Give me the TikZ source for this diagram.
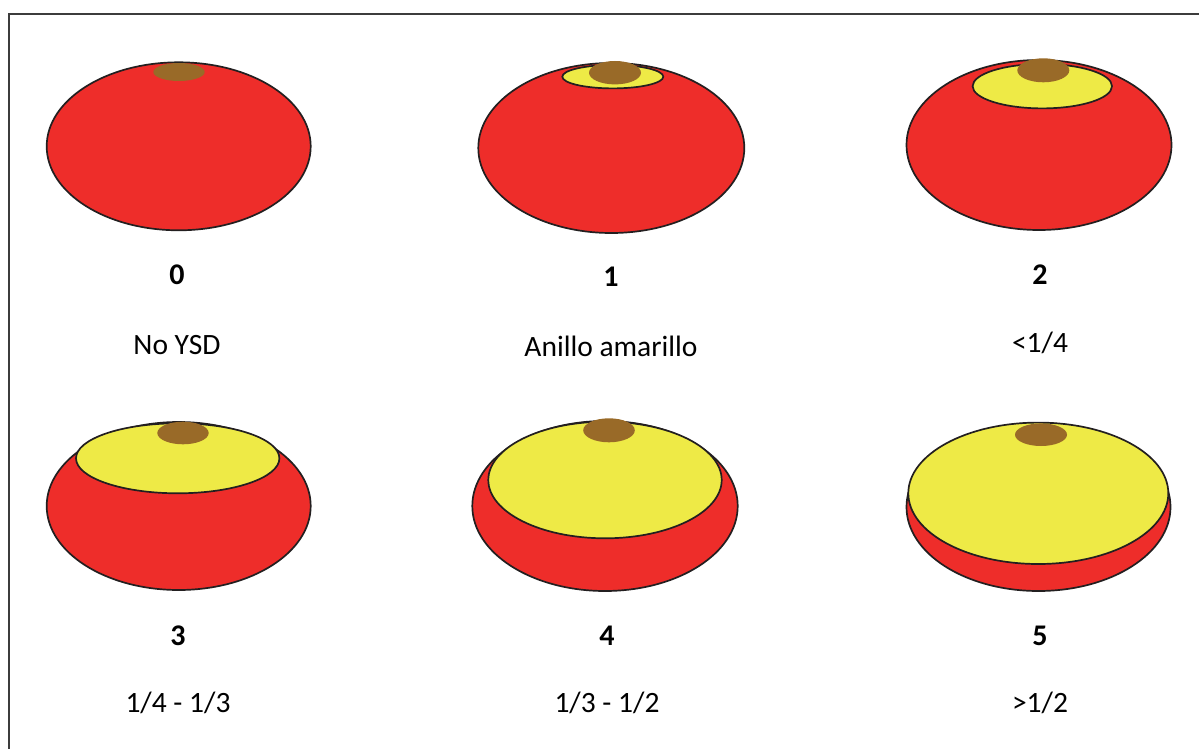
\documentclass[tikz,border=0pt]{standalone}
\usepackage{fontspec}
\setmainfont{Carlito}
\definecolor{seedred}{RGB}{238,45,42}
\definecolor{seedyellow}{RGB}{238,234,70}
\definecolor{hilum}{RGB}{153,106,40}
\definecolor{outline}{RGB}{35,31,32}
\definecolor{framegray}{RGB}{60,60,60}
\tikzset{
  seed/.style={fill=seedred, draw=outline, line width=1.7pt},
  spot/.style={fill=seedyellow, draw=outline, line width=1.7pt},
  eye/.style={fill=hilum, draw=none},
  grade/.style={font=\fontsize{30}{34}\selectfont\bfseries},
  caption/.style={font=\fontsize{29.5}{34}\selectfont}
}
\begin{document}
\begin{tikzpicture}[x=1pt,y=-1pt]
\useasboundingbox (0,0) rectangle (1199,749);
% frame
\draw[framegray, line width=2pt] (9,760) -- (9,14) -- (1210,14);

% grade 0
\draw[seed] (178.7,146.3) ellipse [x radius=132, y radius=84];
\fill[eye] (179,72) ellipse [x radius=25.7, y radius=9];

% grade 1
\draw[seed] (611.3,148) ellipse [x radius=133, y radius=85];
\draw[spot] (612.8,76.7) ellipse [x radius=50.5, y radius=11.7];
\fill[eye] (615,72.7) ellipse [x radius=26, y radius=11.7];

% grade 2
\draw[seed] (1039,145) ellipse [x radius=132.5, y radius=85];
\draw[spot] (1042.3,86.2) ellipse [x radius=69.7, y radius=22.2];
\fill[eye] (1043.3,70.3) ellipse [x radius=26, y radius=12];

% grade 3
\draw[seed] (178.7,506) ellipse [x radius=132, y radius=84];
\draw[spot] (177.7,458.3) ellipse [x radius=101.7, y radius=35];
\fill[eye] (183,433) ellipse [x radius=25.7, y radius=11.3];

% grade 4
\draw[seed] (605,506) ellipse [x radius=132.7, y radius=85];
\draw[spot] (605,480) ellipse [x radius=116.7, y radius=58.3];
\fill[eye] (609,430.3) ellipse [x radius=25.8, y radius=12];

% grade 5
\draw[seed] (1038.5,507) ellipse [x radius=132, y radius=84];
\draw[spot] (1038.3,493.3) ellipse [x radius=130, y radius=70.7];
\fill[eye] (1041,434.7) ellipse [x radius=26, y radius=11.3];

% labels
\node[grade] (g0) at (177,275) {0};
\node[grade] (g1) at (611,277) {1};
\node[grade] (g2) at (1040,275) {2};
\node[caption] (c0) at (177,345) {No YSD};
\node[caption] (c1) at (611,346) {Anillo amarillo};
\node[caption] (c2) at (1040,343) {<1/4};
\node[grade] (g3) at (178,636) {3};
\node[grade] (g4) at (607,636) {4};
\node[grade] (g5) at (1040,636) {5};
\node[caption] (c3) at (178,703) {1/4 - 1/3};
\node[caption] (c4) at (607,703) {1/3 - 1/2};
\node[caption] (c5) at (1040,703) {>1/2};
\end{tikzpicture}
\end{document}
